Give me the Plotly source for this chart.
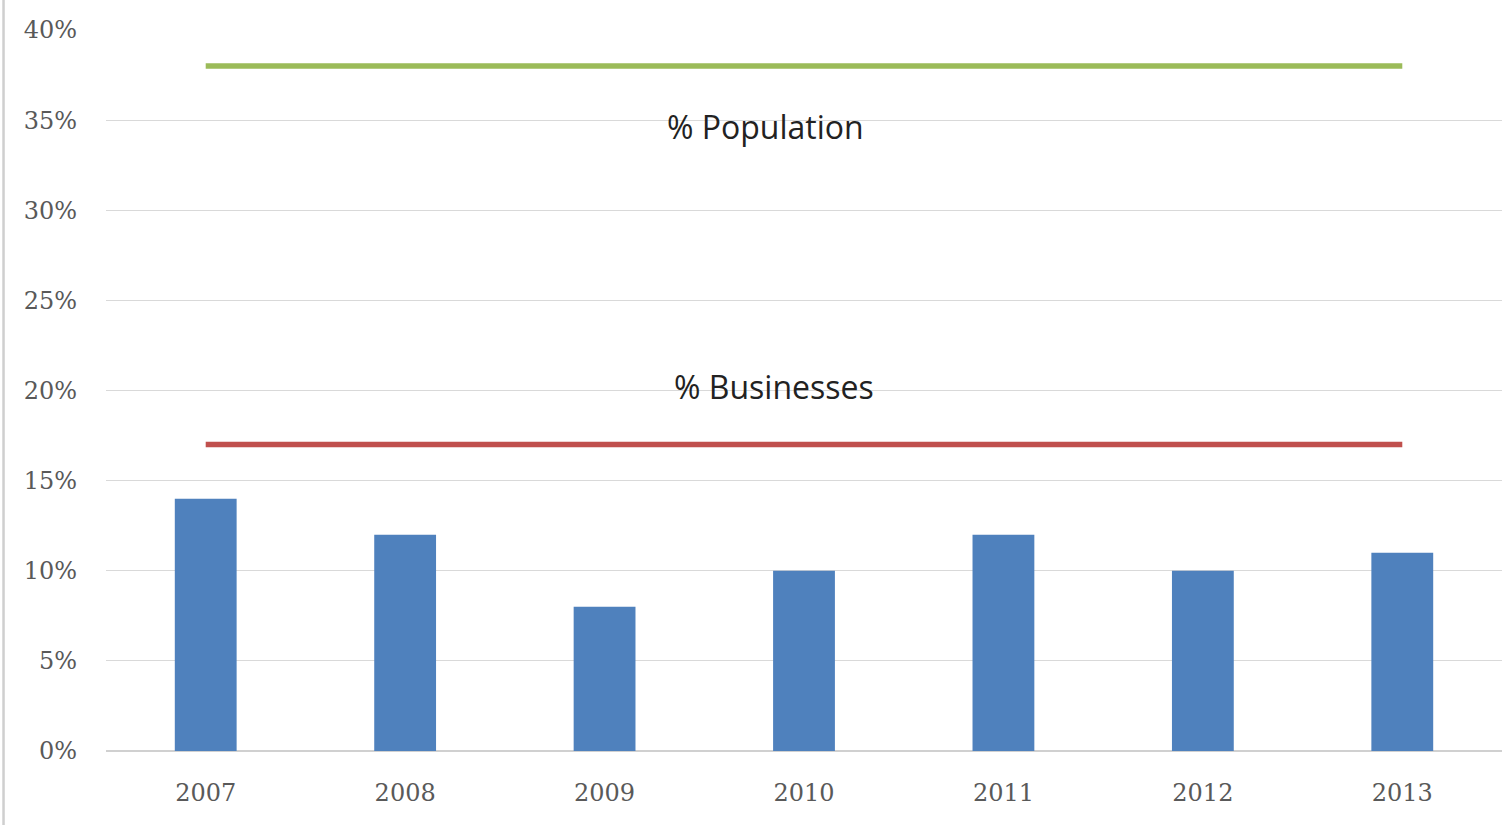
import plotly.graph_objects as go

years = ["2007", "2008", "2009", "2010", "2011", "2012", "2013"]
bar_values = [14, 12, 8, 10, 12, 10, 11]
population_pct = [38, 38, 38, 38, 38, 38, 38]
businesses_pct = [17, 17, 17, 17, 17, 17, 17]
y_ticks = [0, 5, 10, 15, 20, 25, 30, 35, 40]
y_tick_labels = ["0%", "5%", "10%", "15%", "20%", "25%", "30%", "35%", "40%"]

fig = go.Figure()
fig.add_trace(go.Bar(x=years, y=bar_values, marker=dict(color="#4F81BD", line=dict(width=0)),
                     showlegend=False, hoverinfo="y"))
fig.add_trace(go.Scatter(x=years, y=population_pct, mode="lines",
                         line=dict(color="#9BBB59", width=5.5), showlegend=False))
fig.add_trace(go.Scatter(x=years, y=businesses_pct, mode="lines",
                         line=dict(color="#C0504D", width=5.5), showlegend=False))

fig.add_annotation(x=2.807, y=34.65, text="% Population", showarrow=False,
                   font=dict(family="Open Sans", size=32, color="#222222"))
fig.add_annotation(x=2.852, y=20.2, text="% Businesses", showarrow=False,
                   font=dict(family="Open Sans", size=32, color="#222222"))

# thin gray frame line along the left edge
fig.add_shape(type="line", xref="paper", yref="paper",
              x0=-0.0734, x1=-0.0734, y0=-0.2, y1=1.2,
              line=dict(color="#CFCFCF", width=2.5))

fig.update_layout(
    width=1510, height=825,
    margin=dict(l=105.5, r=8, t=30, b=74),
    paper_bgcolor="white", plot_bgcolor="white",
    bargap=0.69,
    xaxis=dict(type="category", showgrid=False, showline=False, ticks="",
               tickfont=dict(family="DejaVu Serif", size=24, color="#595959"),
               ticklabelstandoff=25),
    yaxis=dict(range=[0, 40], tickmode="array", tickvals=y_ticks, ticktext=y_tick_labels,
               showgrid=True, gridcolor="#D9D9D9", gridwidth=1.3,
               zeroline=True, zerolinecolor="#D0D0D0", zerolinewidth=1.5,
               showline=False, ticks="",
               tickfont=dict(family="DejaVu Serif", size=24, color="#595959"),
               ticklabelstandoff=28),
)

fig.write_html("out.html")
